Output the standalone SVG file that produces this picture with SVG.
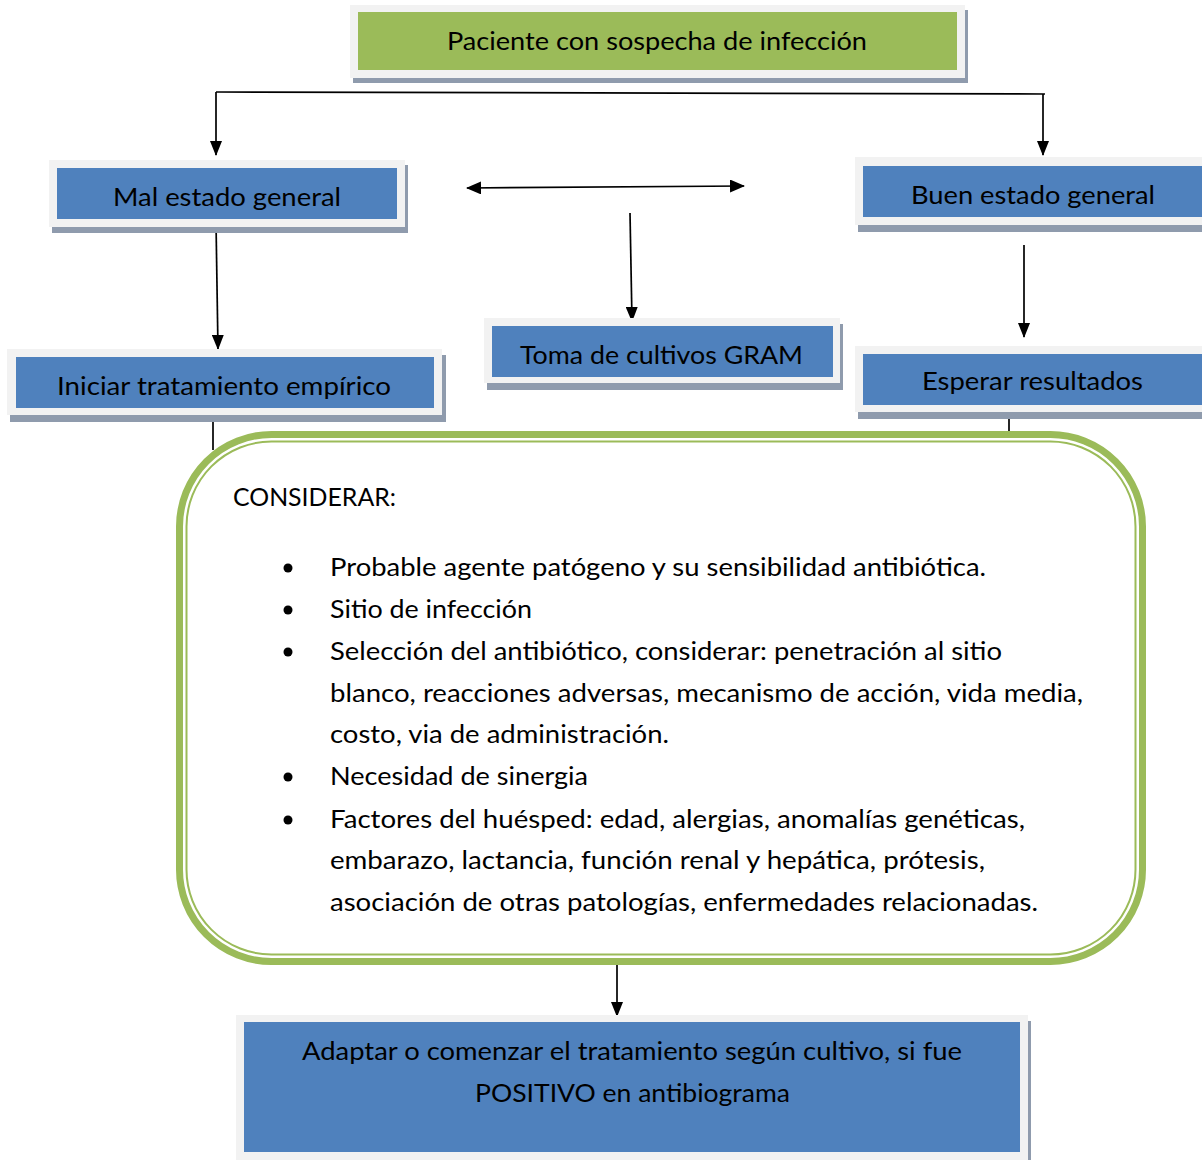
<svg xmlns="http://www.w3.org/2000/svg" width="1202" height="1160" viewBox="0 0 1202 1160">
  <style>
    .shadow { fill: #8f9bad; }
    .frame { fill: #f2f2f2; }
    .blue { fill: #4f81bd; }
    .green { fill: #9bbb59; }
    .lbl { font-family: Lato, "Liberation Sans", sans-serif; font-size: 24.5px; fill: #000; }
    .wire { fill: none; stroke: #000; stroke-width: 1.7; }
    .dot { fill: #000; }
  </style>
  <defs>
    <marker id="head" viewBox="0 0 15 13" refX="14" refY="6.5" markerWidth="15" markerHeight="13" markerUnits="userSpaceOnUse" orient="auto-start-reverse">
      <path d="M0,0 L15,6.5 L0,13 z" fill="#000"/>
    </marker>
    <marker id="headL" viewBox="0 0 15 12" refX="14" refY="6" markerWidth="15" markerHeight="12" markerUnits="userSpaceOnUse" orient="auto-start-reverse">
      <path d="M0,0 L15,6 L0,12 z" fill="#000"/>
    </marker>
  </defs>
  <rect width="1202" height="1160" fill="#fff"/>

  <!-- connectors -->
  <g id="connectors">
    <path class="wire" d="M216,92 L1045,94"/>
    <path class="wire" d="M216,92 L216,155" marker-end="url(#headL)"/>
    <path class="wire" d="M1043,94 L1043,155" marker-end="url(#headL)"/>
    <path class="wire" d="M467,188 L744,186" marker-start="url(#head)" marker-end="url(#head)"/>
    <path class="wire" d="M630,213 L632,321" marker-end="url(#headL)"/>
    <path class="wire" d="M216,222 L218,349" marker-end="url(#headL)"/>
    <path class="wire" d="M1024,245 L1024,337" marker-end="url(#headL)"/>
    <path class="wire" d="M213,420 L213,450"/>
    <path class="wire" d="M1009,419 L1009,434"/>
    <path class="wire" d="M617,960 L617,1016" marker-end="url(#headL)"/>
  </g>

  <!-- start node -->
  <g id="node-paciente">
    <rect class="shadow" x="353" y="10" width="615" height="73"/>
    <rect class="frame" x="350" y="5" width="615" height="73"/>
    <rect class="green" x="358" y="12" width="599" height="58"/>
    <text class="lbl" x="447" y="50" textLength="420" lengthAdjust="spacingAndGlyphs">Paciente con sospecha de infección</text>
  </g>

  <g id="node-mal">
    <rect class="shadow" x="52" y="165" width="356" height="68"/>
    <rect class="frame" x="49" y="160" width="356" height="67"/>
    <rect class="blue" x="57" y="168" width="340" height="51"/>
    <text class="lbl" x="113" y="206" textLength="228" lengthAdjust="spacingAndGlyphs">Mal estado general</text>
  </g>

  <g id="node-buen">
    <rect class="shadow" x="858" y="164" width="350" height="68"/>
    <rect class="frame" x="855" y="157" width="350" height="68"/>
    <rect class="blue" x="863" y="166" width="345" height="51"/>
    <text class="lbl" x="911" y="204" textLength="244" lengthAdjust="spacingAndGlyphs">Buen estado general</text>
  </g>

  <g id="node-toma">
    <rect class="shadow" x="487" y="324" width="356" height="66"/>
    <rect class="frame" x="484" y="318" width="356" height="65"/>
    <rect class="blue" x="492" y="326" width="341" height="51"/>
    <text class="lbl" x="520" y="364" textLength="283" lengthAdjust="spacingAndGlyphs">Toma de cultivos GRAM</text>
  </g>

  <g id="node-iniciar">
    <rect class="shadow" x="10" y="355" width="436" height="67"/>
    <rect class="frame" x="7" y="349" width="435" height="66"/>
    <rect class="blue" x="16" y="357" width="418" height="51"/>
    <text class="lbl" x="57" y="395" textLength="334" lengthAdjust="spacingAndGlyphs">Iniciar tratamiento empírico</text>
  </g>

  <g id="node-esperar">
    <rect class="shadow" x="858" y="353" width="350" height="66"/>
    <rect class="frame" x="855" y="346" width="350" height="66"/>
    <rect class="blue" x="863" y="354" width="345" height="51"/>
    <text class="lbl" x="922" y="390" textLength="221" lengthAdjust="spacingAndGlyphs">Esperar resultados</text>
  </g>

  <!-- considerations panel -->
  <g id="node-considerar">
    <rect x="179.5" y="434.5" width="963" height="527" rx="92" ry="92" fill="#fff" stroke="#9bbb59" stroke-width="7"/>
    <rect x="186.5" y="441.5" width="949" height="513" rx="85" ry="85" fill="none" stroke="#9bbb59" stroke-width="2"/>
    <text class="lbl" x="233" y="506" textLength="163" lengthAdjust="spacingAndGlyphs">CONSIDERAR:</text>
    <circle class="dot" cx="288" cy="568" r="4.5"/>
    <circle class="dot" cx="288" cy="610" r="4.5"/>
    <circle class="dot" cx="288" cy="652" r="4.5"/>
    <circle class="dot" cx="288" cy="777" r="4.5"/>
    <circle class="dot" cx="288" cy="820" r="4.5"/>
    <text class="lbl" x="330" y="576" textLength="656" lengthAdjust="spacingAndGlyphs">Probable agente patógeno y su sensibilidad antibiótica.</text>
    <text class="lbl" x="330" y="618" textLength="202" lengthAdjust="spacingAndGlyphs">Sitio de infección</text>
    <text class="lbl" x="330" y="660" textLength="672" lengthAdjust="spacingAndGlyphs">Selección del antibiótico, considerar: penetración al sitio</text>
    <text class="lbl" x="330" y="702" textLength="753" lengthAdjust="spacingAndGlyphs">blanco, reacciones adversas, mecanismo de acción, vida media,</text>
    <text class="lbl" x="330" y="743" textLength="339" lengthAdjust="spacingAndGlyphs">costo, via de administración.</text>
    <text class="lbl" x="330" y="785" textLength="258" lengthAdjust="spacingAndGlyphs">Necesidad de sinergia</text>
    <text class="lbl" x="330" y="828" textLength="695" lengthAdjust="spacingAndGlyphs">Factores del huésped: edad, alergias, anomalías genéticas,</text>
    <text class="lbl" x="330" y="869" textLength="655" lengthAdjust="spacingAndGlyphs">embarazo, lactancia, función renal y hepática, prótesis,</text>
    <text class="lbl" x="330" y="911" textLength="708" lengthAdjust="spacingAndGlyphs">asociación de otras patologías, enfermedades relacionadas.</text>
  </g>

  <g id="node-adaptar">
    <rect class="shadow" x="239" y="1021" width="792" height="145"/>
    <rect class="frame" x="236" y="1015" width="792" height="145"/>
    <rect class="blue" x="244" y="1022" width="776" height="130"/>
    <text class="lbl" x="302" y="1060" textLength="660" lengthAdjust="spacingAndGlyphs">Adaptar o comenzar el tratamiento según cultivo, si fue</text>
    <text class="lbl" x="475" y="1102" textLength="315" lengthAdjust="spacingAndGlyphs">POSITIVO en antibiograma</text>
  </g>
</svg>
